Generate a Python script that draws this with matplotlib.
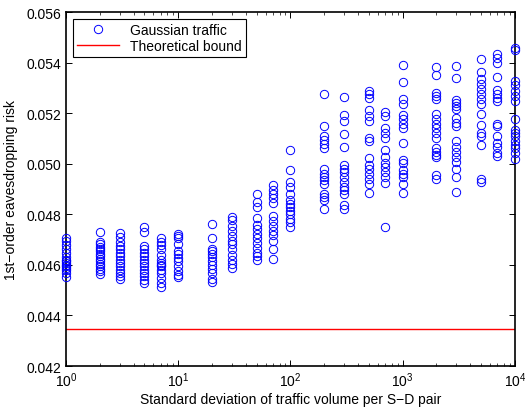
import matplotlib
matplotlib.use("Agg")
import matplotlib.pyplot as plt
from matplotlib.ticker import FixedLocator, FormatStrFormatter, LogLocator, NullFormatter

plt.rcParams['font.family'] = ['Liberation Sans', 'DejaVu Sans']
plt.rcParams['mathtext.fontset'] = 'custom'
plt.rcParams['mathtext.rm'] = 'Liberation Sans'
plt.rcParams['mathtext.it'] = 'Liberation Sans:italic'

# std dev of traffic volume per S-D pair, and the risk values read for each one
std_levels = [1, 2, 3, 5, 7, 10, 20, 30, 50, 70, 100, 200, 300, 500, 700,
              1000, 2000, 3000, 5000, 7000, 10000]
risk_values = [
    [0.04708, 0.04695, 0.04679, 0.04661, 0.04648, 0.04631, 0.04621, 0.04615,
     0.04608, 0.04601, 0.04595, 0.04588, 0.04581, 0.04568, 0.04551],
    [0.04732, 0.04692, 0.04681, 0.04671, 0.04661, 0.04655, 0.04644, 0.04635,
     0.04625, 0.04615, 0.04604, 0.04595, 0.04585, 0.04575, 0.04564],
    [0.04728, 0.04711, 0.04692, 0.04675, 0.04661, 0.04648, 0.04635, 0.04621,
     0.04608, 0.04595, 0.04581, 0.04568, 0.04555, 0.04545],
    [0.04751, 0.04732, 0.04675, 0.04661, 0.04648, 0.04635, 0.04621, 0.04608,
     0.04595, 0.04581, 0.04568, 0.04555, 0.04541, 0.04528],
    [0.04705, 0.04692, 0.04679, 0.04661, 0.04641, 0.04621, 0.04608, 0.04601,
     0.04595, 0.04581, 0.04568, 0.04548, 0.04528, 0.04511],
    [0.04724, 0.04715, 0.04705, 0.04681, 0.04655, 0.04644, 0.04628, 0.04615,
     0.04595, 0.04575, 0.04559, 0.04551],
    [0.04761, 0.04705, 0.04661, 0.04655, 0.04644, 0.04631, 0.04617, 0.04601,
     0.04585, 0.04568, 0.04545, 0.04532],
    [0.04788, 0.04777, 0.04755, 0.04735, 0.04715, 0.04695, 0.04681, 0.04661,
     0.04641, 0.04621, 0.04604, 0.04588],
    [0.04879, 0.04848, 0.04828, 0.04785, 0.04759, 0.04741, 0.04721, 0.04705,
     0.04688, 0.04668, 0.04648, 0.04635, 0.04621],
    [0.04915, 0.04897, 0.04881, 0.04865, 0.04844, 0.04795, 0.04775, 0.04755,
     0.04735, 0.04719, 0.04695, 0.04661, 0.04625],
    [0.05055, 0.04977, 0.04928, 0.04908, 0.04881, 0.04855, 0.04841, 0.04828,
     0.04815, 0.04801, 0.04781, 0.04768, 0.04751],
    [0.05275, 0.05150, 0.05108, 0.05095, 0.05079, 0.05061, 0.04981, 0.04961,
     0.04948, 0.04935, 0.04921, 0.04881, 0.04868, 0.04855, 0.04821],
    [0.05264, 0.05191, 0.05168, 0.05119, 0.05068, 0.04995, 0.04981, 0.04968,
     0.04948, 0.04928, 0.04908, 0.04895, 0.04881, 0.04835, 0.04821],
    [0.05288, 0.05275, 0.05261, 0.05212, 0.05188, 0.05168, 0.05101, 0.05088,
     0.05021, 0.04995, 0.04981, 0.04961, 0.04941, 0.04921, 0.04884],
    [0.05204, 0.05188, 0.05141, 0.05121, 0.05101, 0.05055, 0.05028, 0.05004,
     0.04988, 0.04968, 0.04948, 0.04924, 0.04751],
    [0.05391, 0.05324, 0.05255, 0.05235, 0.05191, 0.05175, 0.05159, 0.05141,
     0.05081, 0.05015, 0.05001, 0.04975, 0.04961, 0.04948, 0.04921, 0.04884],
    [0.05384, 0.05351, 0.05281, 0.05268, 0.05255, 0.05195, 0.05175, 0.05159,
     0.05141, 0.05121, 0.05101, 0.05061, 0.05048, 0.05035, 0.05025, 0.04955,
     0.04941],
    [0.05388, 0.05341, 0.05252, 0.05241, 0.05228, 0.05215, 0.05181, 0.05161,
     0.05148, 0.05088, 0.05068, 0.05048, 0.05028, 0.05008, 0.04981, 0.04948,
     0.04888],
    [0.05414, 0.05361, 0.05335, 0.05315, 0.05295, 0.05275, 0.05255, 0.05235,
     0.05195, 0.05155, 0.05121, 0.05108, 0.05075, 0.04941, 0.04928],
    [0.05434, 0.05417, 0.05399, 0.05344, 0.05292, 0.05275, 0.05261, 0.05248,
     0.05159, 0.05148, 0.05111, 0.05081, 0.05068, 0.05041, 0.05031],
    [0.05457, 0.05448, 0.05328, 0.05311, 0.05288, 0.05268, 0.05248, 0.05175,
     0.05135, 0.05121, 0.05108, 0.05088, 0.05075, 0.05061, 0.05041, 0.05017],
]
bound = 0.04348
y_ticks = [0.042, 0.044, 0.046, 0.048, 0.05, 0.052, 0.054, 0.056]

xs = []
ys = []
for s, vals in zip(std_levels, risk_values):
    xs += [s] * len(vals)
    ys += vals

fig = plt.figure(figsize=(5.25, 4.14), dpi=100)
ax = fig.add_axes([0.1257, 0.1135, 0.855, 0.855])

ax.plot(xs, ys, 'o', mfc='none', mec='blue', ms=6, mew=0.7, label='Gaussian traffic',
        clip_on=False, zorder=3)
ax.axhline(bound, color='red', lw=1.0, label='Theoretical bound')

ax.set_xscale('log')
ax.set_xlim(1, 10000)
ax.set_ylim(0.042, 0.056)
ax.yaxis.set_major_locator(FixedLocator(y_ticks))
ax.yaxis.set_major_formatter(FormatStrFormatter('%.3f'))
ax.xaxis.set_minor_locator(LogLocator(base=10, subs=range(2, 10)))
ax.xaxis.set_minor_formatter(NullFormatter())

ax.tick_params(which='both', direction='in', top=True, right=True, labelsize=10,
               colors='black')
ax.tick_params(which='major', length=4, width=0.7)
ax.tick_params(which='minor', length=2, width=0.5)
for sp in ax.spines.values():
    sp.set_linewidth(1.2)

ax.set_xlabel('Standard deviation of traffic volume per S\u2212D pair', fontsize=10, labelpad=2)
ax.set_ylabel('1st\u2212order eavesdropping risk', fontsize=10, labelpad=6)

leg = ax.legend(loc='upper left', fontsize=10, fancybox=False, framealpha=1,
                edgecolor='black', borderpad=0.3, labelspacing=0.1,
                handlelength=3.0, borderaxespad=0.5)
leg.get_frame().set_linewidth(0.8)

fig.savefig('out.png', dpi=100)
